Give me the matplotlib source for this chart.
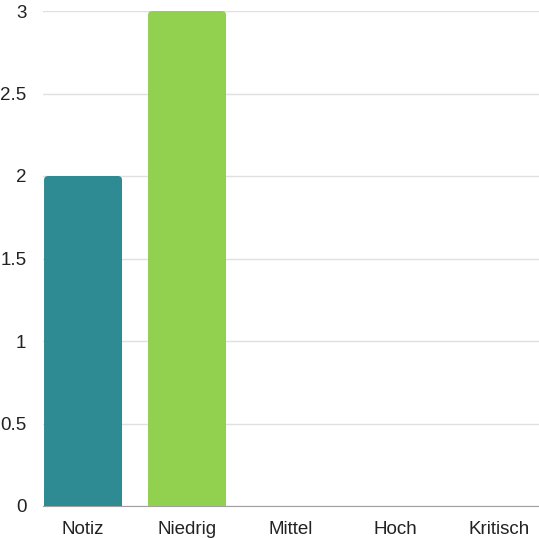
import matplotlib.pyplot as plt
from matplotlib.patches import FancyBboxPatch

categories = ['Notiz', 'Niedrig', 'Mittel', 'Hoch', 'Kritisch']
values = [2, 3, 0, 0, 0]
colors = ['#2E8B94', '#92D050', '#2E8B94', '#92D050', '#2E8B94']

plt.rcParams['font.family'] = ['Liberation Sans', 'DejaVu Sans']

fig = plt.figure(figsize=(5.39, 5.38), dpi=100)
ax = fig.add_axes([43 / 539, 1 - 506 / 538, 1 - 43 / 539, (506 - 11) / 538])

bw = 0.75
for i, v in enumerate(values):
    if v <= 0:
        continue
    p = FancyBboxPatch((i - bw / 2, 0), bw, v,
                       boxstyle='round,pad=0,rounding_size=0.04',
                       mutation_aspect=1.0 / 0.04 * 0.025,
                       facecolor=colors[i], edgecolor='none', zorder=3)
    ax.add_patch(p)
    # square off the bottom corners
    ax.bar(i, min(v, 0.1), width=bw, color=colors[i], zorder=3)

ax.set_xlim(-0.385, 4.385)
ax.set_ylim(0, 3)
ax.set_yticks([0, 0.5, 1, 1.5, 2, 2.5, 3])
ax.set_yticklabels(['0', '0.5', '1', '1.5', '2', '2.5', '3'])
ax.set_xticks(range(len(categories)))
ax.set_xticklabels(categories)
ax.grid(axis='y', color='#e0e0e0', linewidth=1, zorder=0)
ax.set_axisbelow(True)
for s in ['top', 'right', 'left']:
    ax.spines[s].set_visible(False)
ax.spines['bottom'].set_color('#a0a0a0')
ax.tick_params(axis='both', length=0, labelsize=13.5, colors='#222222')
ax.tick_params(axis='y', pad=12)
ax.tick_params(axis='x', pad=11)

plt.savefig('out.png', dpi=100)
